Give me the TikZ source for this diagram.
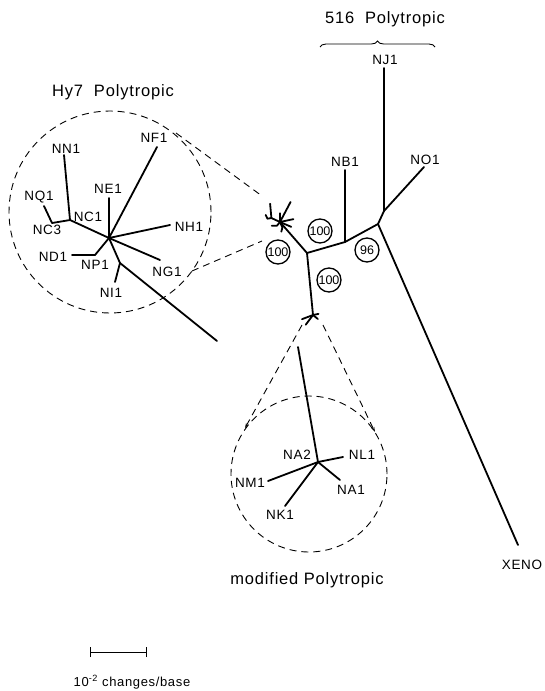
\documentclass[tikz,border=0pt]{standalone}
\usepackage{fontspec}
\setmainfont{Liberation Sans}
\newfontfamily\labfont[LetterSpace=5]{Liberation Sans}
\usetikzlibrary{decorations.pathreplacing,arrows.meta}
\newcommand\hytree[1]{%
  \coordinate (#1c) at (0,0);
  \coordinate (#1F) at (48,-91);
  \coordinate (#1E) at (0,-40);
  \coordinate (#1H) at (61,-13);
  \coordinate (#1G) at (51,22);
  \coordinate (#1C1) at (-39,-18);
  \coordinate (#1N) at (-45,-83);
  \coordinate (#1C3) at (-57,-15);
  \coordinate (#1Q) at (-65,-32);
  \coordinate (#1P) at (-14,17);
  \coordinate (#1D) at (-37,17);
  \coordinate (#1Ik) at (11,25);
  \coordinate (#1I) at (6,44);
  \draw[branch] (#1c) -- (#1F);
  \draw[branch] (#1c) -- (#1E);
  \draw[branch] (#1c) -- (#1H);
  \draw[branch] (#1c) -- (#1G);
  \draw[branch] (#1c) -- (#1C1) -- (#1N);
  \draw[branch] (#1C1) -- (#1C3) -- (#1Q);
  \draw[branch] (#1c) -- (#1P) -- (#1D);
  \draw[branch] (#1c) -- (#1Ik) -- (#1I);
}
\newcommand\modtree[1]{%
  \coordinate (#1c) at (0,0);
  \coordinate (#1L) at (25,-5);
  \coordinate (#1A) at (22,18);
  \coordinate (#1M) at (-50,19);
  \coordinate (#1K) at (-33,44);
  \draw[branch] (#1c) -- (#1L);
  \draw[branch] (#1c) -- (#1A);
  \draw[branch] (#1c) -- (#1M);
  \draw[branch] (#1c) -- (#1K);
}
\begin{document}
\begin{tikzpicture}[x=1pt,y=-1pt,
  branch/.style={line width=1.8pt, line cap=round, line join=round},
  zoomline/.style={line width=0.9pt, dash pattern=on 7pt off 5pt},
  leaf/.style={font=\labfont\fontsize{13.5}{15}\selectfont, inner sep=0pt},
  title/.style={font=\labfont\fontsize{16.5}{19}\selectfont, inner sep=0pt},
  boot/.style={circle, draw, line width=1.3pt, minimum size=24pt, inner sep=0pt,
    font=\fontsize{12.5}{14}\selectfont}]
\useasboundingbox (0,0) rectangle (544,691);

% ---------- titles ----------
\node[title] (t516) at (385,19) {516\ \ Polytropic};
\node[title] (thy7) at (113,92) {Hy7\ \ Polytropic};
\node[title] (tmod) at (307,580) {modified Polytropic};
\coordinate (brL) at (320,47);
\coordinate (brR) at (435,47);
\draw[line width=0.9pt, decorate, decoration={brace, amplitude=6pt}] (brL) -- (brR);

% ---------- main tree ----------
\coordinate (hp) at (280,222);
\coordinate (J1) at (307,253);
\coordinate (mm) at (313,315);
\coordinate (J2) at (345,242);
\coordinate (Bend) at (345,170);
\coordinate (J3) at (378,224);
\coordinate (J4) at (384,211);
\coordinate (NJend) at (384,68);
\coordinate (NOend) at (424,167);
\coordinate (Xend) at (518,545);
\draw[branch] (hp) -- (J1) -- (J2) -- (J3) -- (J4) -- (NJend);
\draw[branch] (J4) -- (NOend);
\draw[branch] (J3) -- (Xend);
\draw[branch] (J2) -- (Bend);
\draw[branch] (J1) -- (mm);

\node[leaf] (NJ1) at (385,60) {NJ1};
\node[leaf] (NB1) at (345,162) {NB1};
\node[leaf] (NO1) at (425,160) {NO1};
\node[leaf] (XENO) at (522,565) {XENO};

% bootstrap values
\node[boot] (b1) at (278,252) {100};
\node[boot] (b2) at (320,231) {100};
\node[boot] (b3) at (329,280) {100};
\node[boot] (b4) at (367,250) {96};

% ---------- mini copies ----------
\begin{scope}[shift={(280,222)}, scale=0.22]
  \hytree{m}
\end{scope}
\begin{scope}[shift={(313,315)}, scale=0.22]
  \modtree{k}
\end{scope}

% ---------- Hy7 enlarged ----------
\node[circle, draw, zoomline, minimum size=202pt, inner sep=0pt] (hyc) at (110,212) {};
\begin{scope}[shift={(109,238)}]
  \hytree{h}
  \coordinate (hS) at (108,103);
  \draw[branch] (hIk) -- (hS);
\end{scope}
\coordinate (hu1) at (176,133);
\coordinate (hu2) at (262,196);
\coordinate (hl1) at (192,271);
\coordinate (hl2) at (262,241);
\draw[zoomline] (hu1) -- (hu2);
\draw[zoomline] (hl1) -- (hl2);

\node[leaf] (NF1) at (154,138) {NF1};
\node[leaf] (NE1) at (108,189) {NE1};
\node[leaf] (NH1) at (189,227) {NH1};
\node[leaf] (NG1) at (167,272) {NG1};
\node[leaf] (NC1) at (88,217) {NC1};
\node[leaf] (NN1) at (66,149) {NN1};
\node[leaf] (NC3) at (47,230) {NC3};
\node[leaf] (NQ1) at (39,197) {NQ1};
\node[leaf] (ND1) at (53,257) {ND1};
\node[leaf] (NP1) at (95,265) {NP1};
\node[leaf] (NI1) at (111,293) {NI1};

% ---------- modified enlarged ----------
\node[circle, draw, zoomline, minimum size=156pt, inner sep=0pt] (mc) at (309,474) {};
\begin{scope}[shift={(318,462)}]
  \modtree{a}
  \coordinate (aS) at (-20,-115);
  \draw[branch] (ac) -- (aS);
\end{scope}
\coordinate (ml1) at (302,325);
\coordinate (ml2) at (245,428);
\coordinate (mr1) at (323,325);
\coordinate (mr2) at (375,432);
\draw[zoomline, -{Stealth[length=5pt,width=3pt]}] (ml1) -- (ml2);
\draw[zoomline, -{Stealth[length=5pt,width=3pt]}] (mr1) -- (mr2);

\node[leaf] (NA2) at (297,455) {NA2};
\node[leaf] (NL1) at (362,455) {NL1};
\node[leaf] (NM1) at (250,483) {NM1};
\node[leaf] (NA1) at (351,490) {NA1};
\node[leaf] (NK1) at (280,515) {NK1};

% ---------- scale bar ----------
\coordinate (sbL) at (90,652);
\coordinate (sbR) at (146,652);
\draw[line width=1pt] (sbL) -- (sbR);
\draw[line width=1pt] ([yshift=-5pt]sbL) -- ([yshift=5pt]sbL);
\draw[line width=1pt] ([yshift=-5pt]sbR) -- ([yshift=5pt]sbR);
\node[font=\labfont\fontsize{13}{15}\selectfont, inner sep=0pt] (sblab) at (132,682) {10\textsuperscript{-2} changes/base};
\end{tikzpicture}
\end{document}
